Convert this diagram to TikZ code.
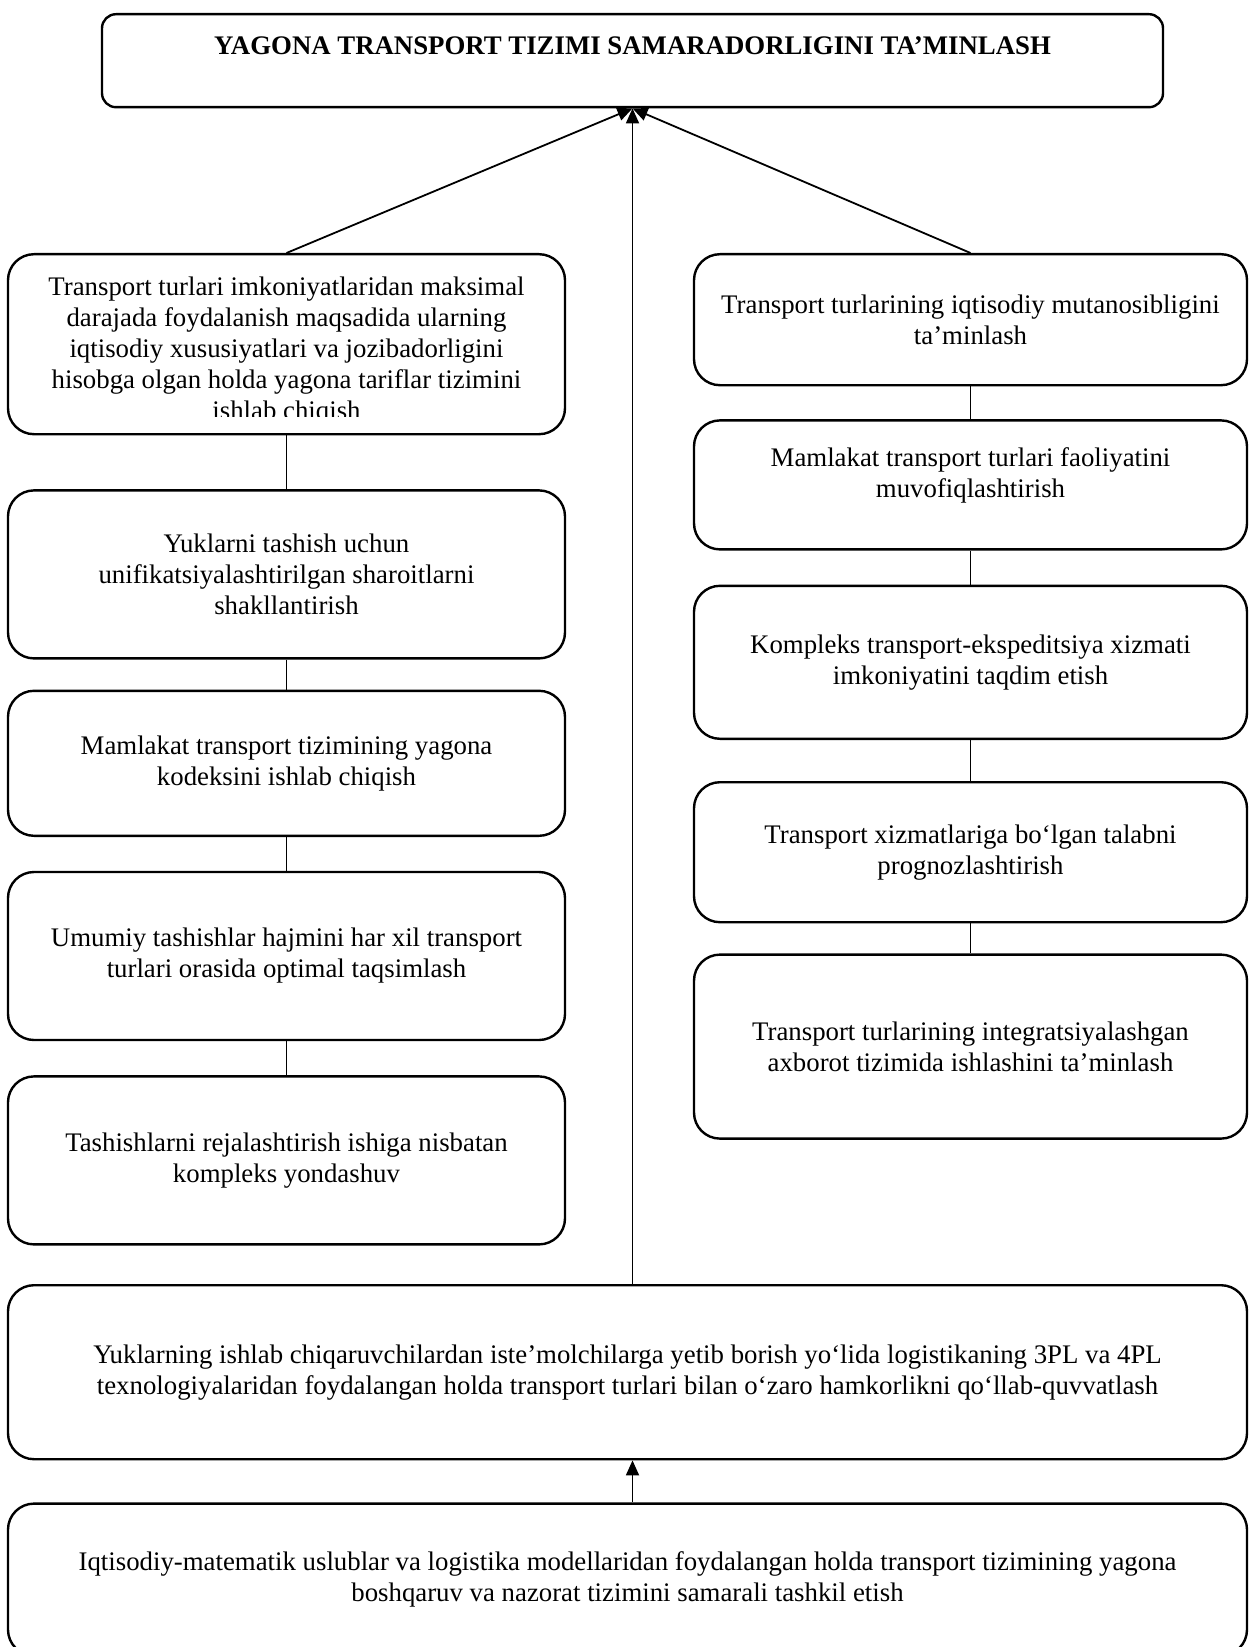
\documentclass[tikz,border=0pt]{standalone}
\usepackage{fontspec}
\setmainfont{Liberation Serif}
\usetikzlibrary{positioning,arrows.meta}

\begin{document}
\begin{tikzpicture}[
  x=0.5pt, y=-0.5pt,
  card/.style={rectangle, draw, line width=1.2pt, rounded corners=13pt, align=center, inner sep=0pt, font=\fontsize{13.4}{15.5}\selectfont},
  leftcard/.style={card, minimum width=278.5pt},
  rightcard/.style={card, minimum width=276.5pt},
  widecard/.style={card, minimum width=619.5pt},
  link/.style={line width=0.9pt},
  arrow/.style={link, -{Triangle[length=7.5pt,width=6.5pt]}}
]
  \useasboundingbox (0,0) rectangle (1248,1647);

  % Goal
  \node[card, rounded corners=7pt, minimum width=530.5pt, text height=20pt, text depth=26.5pt, anchor=north,
        font=\fontsize{13.4}{15.5}\selectfont\bfseries] (goal) at (632.5,13) {YAGONA TRANSPORT TIZIMI SAMARADORLIGINI TA’MINLASH};

  % Left column
  \node[leftcard, minimum height=90pt, anchor=north] (l1) at (286.5,253) {};
  \begin{scope}
    \clip (l1.north west) rectangle ([yshift=9.5pt]l1.south east);
    \node[card, draw=none, yshift=-3.5pt] (l1text) at (l1) {Transport turlari imkoniyatlaridan maksimal\\ darajada foydalanish maqsadida ularning\\ iqtisodiy xususiyatlari va jozibadorligini\\ hisobga olgan holda yagona tariflar tizimini\\ ishlab chiqish};
  \end{scope}
  \node[leftcard, minimum height=84pt, below=26.9pt of l1] (l2) {Yuklarni tashish uchun\\ unifikatsiyalashtirilgan sharoitlarni\\ shakllantirish};
  \node[leftcard, minimum height=72.5pt, below=15pt of l2] (l3) {Mamlakat transport tizimining yagona\\ kodeksini ishlab chiqish};
  \node[leftcard, minimum height=84pt, below=16.9pt of l3] (l4) {Umumiy tashishlar hajmini har xil transport\\ turlari orasida optimal taqsimlash};
  \node[leftcard, minimum height=84pt, below=17pt of l4] (l5) {Tashishlarni rejalashtirish ishiga nisbatan\\ kompleks yondashuv};

  % Right column
  \node[rightcard, minimum height=65.5pt, anchor=north] (r1) at (970.5,253) {Transport turlarining iqtisodiy mutanosibligini\\ ta’minlash};
  \node[rightcard, minimum height=64.5pt, below=16.4pt of r1] (r2) {\raisebox{4.7pt}[\height][\depth]{\begin{tabular}{@{}c@{}}Mamlakat transport turlari faoliyatini\\ muvofiqlashtirish\end{tabular}}};
  \node[rightcard, minimum height=76.5pt, below=17pt of r2] (r3) {Kompleks transport-ekspeditsiya xizmati\\ imkoniyatini taqdim etish};
  \node[rightcard, minimum height=70pt, below=20.5pt of r3] (r4) {Transport xizmatlariga bo‘lgan talabni\\ prognozlashtirish};
  \node[rightcard, minimum height=92pt, below=15pt of r4] (r5) {Transport turlarining integratsiyalashgan\\ axborot tizimida ishlashini ta’minlash};

  % Bottom
  \node[widecard, minimum height=87pt, anchor=north] (b1) at (627.5,1284) {Yuklarning ishlab chiqaruvchilardan iste’molchilarga yetib borish yo‘lida logistikaning 3PL va 4PL\\ texnologiyalaridan foydalangan holda transport turlari bilan o‘zaro hamkorlikni qo‘llab-quvvatlash};
  \node[widecard, minimum height=76pt, below=21pt of b1] (b2) {Iqtisodiy-matematik uslublar va logistika modellaridan foydalangan holda transport tizimining yagona\\ boshqaruv va nazorat tizimini samarali tashkil etish};

  % Links
  \draw[link] (l1) -- (l2);
  \draw[link] (l2) -- (l3);
  \draw[link] (l3) -- (l4);
  \draw[link] (l4) -- (l5);
  \draw[link] (r1) -- (r2);
  \draw[link] (r2) -- (r3);
  \draw[link] (r3) -- (r4);
  \draw[link] (r4) -- (r5);

  % Arrows
  \draw[arrow] (l1.north) -- (goal.south);
  \draw[arrow] (r1.north) -- (goal.south);
  \draw[arrow] (b1.north -| goal.south) -- (goal.south);
  \draw[arrow] (b2.north -| goal.south) -- (b1.south -| goal.south);
\end{tikzpicture}
\end{document}
